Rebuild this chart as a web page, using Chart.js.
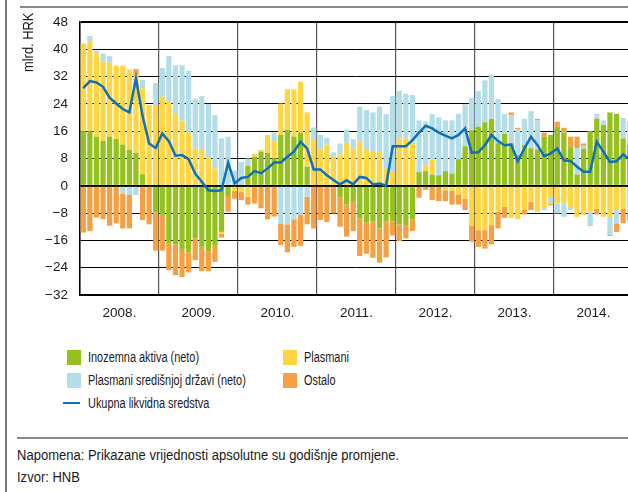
<!DOCTYPE html>
<html>
<head>
<meta charset="utf-8">
<script src="https://cdn.jsdelivr.net/npm/chart.js@4.4.1/dist/chart.umd.min.js"></script>
<style>
    html, body { margin: 0; padding: 0; background: #fff; overflow: hidden; }
    #page { position: relative; width: 628px; height: 492px; overflow: hidden; font-family: "Liberation Sans", Arial, sans-serif; color: #1a1a1a; }
    #chartBox { position: absolute; left: 0; top: 0; width: 640px; height: 330px; }
    .frame-left { position: absolute; left: 5px; top: 0; width: 1.5px; height: 492px; background: #777; }
    .frame-top { position: absolute; left: 20px; top: 6px; right: 0; height: 2px; background: #888; }
    .frame-sep { position: absolute; left: 17px; top: 437px; right: 0; height: 2px; background: #888; }
    .ytitle { position: absolute; left: 28px; top: 13px; font-size: 14px; line-height: 14px; white-space: nowrap;
              transform-origin: 0 0; transform: translate(-7px, 59px) rotate(-90deg) scaleX(0.92); }
    .legend-item { position: absolute; height: 16px; line-height: 16px; font-size: 14px; white-space: nowrap;
                   transform-origin: 0 50%; transform: scaleX(0.78); }
    .legend-box { position: absolute; width: 14px; height: 15px; }
    .legend-line { position: absolute; width: 17px; height: 2px; }
    .note { position: absolute; left: 17px; font-size: 14px; line-height: 16px; white-space: nowrap;
            transform-origin: 0 50%; transform: scaleX(0.93); }
</style>
</head>
<body>
<div id="page">
    <div class="frame-left"></div>
    <div class="frame-top"></div>
    <div id="chartBox"><canvas id="likvidnost"></canvas></div>
    <div class="ytitle">mlrd. HRK</div>
    <div id="legend"></div>
    <div class="frame-sep"></div>
    <div class="note" style="top:447px;">Napomena: Prikazane vrijednosti apsolutne su godišnje promjene.</div>
    <div class="note" style="top:469px;">Izvor: HNB</div>
</div>
<script>
// godine i mjeseci (kategorije)
const years = ['2008.', '2009.', '2010.', '2011.', '2012.', '2013.', '2014.'];
const months = [];
years.forEach(y => { for (let m = 1; m <= 12; m++) months.push(m + '/' + y); });

// godišnje promjene, mlrd. HRK
const inozemnaAktiva = [
    16, 16, 14.4, 13.2, 14.4, 13.7, 12.1, 10.5, 9.7, 3.4, 0, -7.8,
    -8.5, -16.8, -17.2, -18.5, -19.5, -15.4, -17.9, -19.2, -17.4, -13.5, -3, 0,
    0, 5.8, 8.5, 10, 9.7, 8, 14.9, 16.4, 14.4, 15.6, 5.6, 0,
    0, 0, 0, -3.5, -5.5, -4.7, -9.5, -10.8, -10.5, -12.5, -10.5, -10.5,
    -11.3, -11.7, -9.8, 4, 4.3, 3.3, 3.1, 4.3, 3.6, 7.8, 11.6, 16.3,
    17.3, 18.6, 19.6, 12.5, 15.2, 12.5, 9, 12, 11, 10.7, 14.4, 14.9,
    17.3, 15.6, 11.1, 3.3, 10.9, 16, 19.7, 17.8, 21.5, 21.1, 13.9, 12
];
const plasmani = [
    25.7, 26.2, 24.4, 23.2, 21.7, 21.5, 23.1, 23.6, 22.8, 25.2, 23.7, 23.7,
    26.1, 24.7, 21.3, 19.1, 15.6, 11, 10.5, 8.4, 5.1, -0.5, 0, -1.5,
    -1.8, -3.2, 0.8, 0.5, 5.2, 4.9, 9.2, 11.9, 13.9, 14.9, 15.9, 13.4,
    10.5, 12.1, 8.5, 9.2, 12.6, 10.9, 12.9, 10.5, 10.2, 10.2, 5, 4,
    13.9, 13.9, 12.6, 0, 1.6, 4.5, 0, -1.3, -1.5, -2.5, -3.7, -11.7,
    -13, -13, -11.5, -7.6, -6.2, -9.4, -9.8, -7.1, -4.7, -7.6, -6.5, -3.2,
    -5.2, -5.2, -6.2, -9.1, -8.6, -7.6, -6.8, -9.1, -9.4, -7.1, -6.8, -8
];
const plasmaniDrzavi = [
    0, 1.7, 0.8, 2.4, 1.9, 0, -2.4, -2.7, -2.7, 2.4, 0, 6.4,
    8.4, 13.4, 14, 16.2, 18.1, 14.5, 15.8, 15.6, 15.6, 13.9, 14.4, 4.5,
    7, 2.2, 0, 0, 0, 2.7, -11, -11.3, -9.8, -8.4, -3.2, 3.7,
    4.4, 2, 1.3, 3.2, 3.9, 2.8, 10.3, 11.7, 11.3, 13, 16, 22.3,
    13.9, 13.1, 14, 15.2, 12.9, 13.2, 17, 14.9, 15.6, 13.3, 12.3, 9.5,
    10.5, 12.3, 12.9, 12.9, 5.9, 8.2, 7.6, 7.6, 10.9, 8.5, -0.6, -2,
    -2.9, -3.9, -0.9, 7.7, 0.8, -3.9, 1.4, 1.4, -4.9, -3.9, 6, 6.8
];
const ostalo = [
    -13.7, -13.3, -9.3, -9.8, -11.7, -11, -10.1, -9.8, 1.7, -10, -11.3, -11.2,
    -10.5, -7.9, -9, -8.2, -5.9, -6.4, -7.1, -5.8, -4.9, -1.2, -4.6, -2.3,
    -2.4, -2.3, -5.2, -6.6, -9.8, -9, -6.4, -8.2, -8.1, -9.2, -8.1, -12.5,
    -10, -10.6, -8.1, -8.5, -9.4, -8.6, -11.1, -9.1, -10.6, -10, -10.5, -4.1,
    -4.9, -3.7, -3.4, -3.5, -1.2, -4.2, -4.5, -3.2, -4, -3, -3.4, -4.7,
    -4.9, -5.4, -5.7, -4.9, -3.2, 0.8, 0.4, -1.3, -2.4, 0.4, 1.2, -0.5,
    1.5, 1.4, 3.3, 3.4, 0.7, -0.2, -1.6, 0, -0.4, -2.5, -4.2, -2.4
];
const ukupnaLikvidna = [
    28.6, 30.7, 30.3, 29, 25.8, 24.1, 22.5, 21.5, 31.5, 20.5, 12.4, 11.1,
    15.3, 13.1, 8.8, 9, 7.8, 3.6, 1.2, -1.3, -1.5, -1.3, 6.8, 0.7,
    2.3, 2.6, 4.3, 3.7, 5.1, 6.8, 6.8, 8.5, 10, 12.9, 10.9, 4.8,
    4.8, 3.1, 1.7, 0.4, 1.6, 0.4, 2.6, 2.3, 0.4, 0.7, 0, 11.6,
    11.6, 11.6, 13.4, 15.6, 17.6, 16.8, 15.6, 14.7, 13.9, 14.9, 16.8, 9.7,
    9.8, 11.9, 14.9, 13.1, 11.9, 12.1, 7.2, 10.9, 14.4, 11.9, 8.7, 9.5,
    10.9, 7.5, 7.3, 5.6, 4.1, 4.1, 12.9, 10, 7, 7.2, 9.2, 7.8
];

const COLORS = {
    green: '#95c11f',
    yellow: '#ffd641',
    blue: '#b3dee9',
    orange: '#f5a042',
    line: '#0f70b5'
};

function barSet(label, data, color) {
    return {
        type: 'bar',
        label: label,
        data: data,
        backgroundColor: color,
        borderWidth: 0,
        stack: 'komponente',
        barPercentage: 0.8,
        categoryPercentage: 1,
        order: 2
    };
}

const ctx = document.getElementById('likvidnost').getContext('2d');
new Chart(ctx, {
    data: {
        labels: months,
        datasets: [
            barSet('Inozemna aktiva (neto)', inozemnaAktiva, COLORS.green),
            barSet('Plasmani', plasmani, COLORS.yellow),
            barSet('Plasmani središnjoj državi (neto)', plasmaniDrzavi, COLORS.blue),
            barSet('Ostalo', ostalo, COLORS.orange),
            {
                type: 'line',
                label: 'Ukupna likvidna sredstva',
                data: ukupnaLikvidna,
                borderColor: COLORS.line,
                borderWidth: 2.5,
                pointRadius: 0,
                tension: 0,
                stack: 'linija',
                order: 1
            }
        ]
    },
    options: {
        responsive: true,
        maintainAspectRatio: false,
        animation: false,
        layout: { padding: { top: 22, right: 7, left: 0, bottom: 0 } },
        plugins: {
            legend: { display: false },
            tooltip: { enabled: false }
        },
        scales: {
            x: {
                stacked: true,
                offset: true,
                afterFit: s => { s.height = 35; },
                grid: {
                    offset: true,
                    drawTicks: false,
                    color: c => (c.index % 12 === 0 ? '#555' : 'rgba(0,0,0,0)'),
                    lineWidth: 1.2
                },
                border: { display: true, color: '#000', width: 2 },
                ticks: {
                    autoSkip: false,
                    maxRotation: 0,
                    padding: 10,
                    labelOffset: -3.3,
                    color: '#1a1a1a',
                    font: { family: '"Liberation Sans", Arial, sans-serif', size: 13.5 },
                    callback: (v, i) => (i % 12 === 6 ? years[Math.floor(i / 12)] : '')
                }
            },
            y: {
                stacked: true,
                min: -32,
                max: 48,
                afterFit: s => { s.width = 80; },
                grid: {
                    drawTicks: false,
                    color: '#000',
                    lineWidth: c => ([0, 48, -32].includes(c.tick.value) ? 2 : 1)
                },
                border: { display: true, color: '#000', width: 1.5 },
                ticks: {
                    stepSize: 8,
                    padding: 12,
                    color: '#1a1a1a',
                    font: { family: '"Liberation Sans", Arial, sans-serif', size: 13.5 },
                    callback: v => (v < 0 ? '\u2212' + Math.abs(v) : String(v))
                }
            }
        }
    }
});

// legenda (dva stupca kao u izvorniku)
const legendItems = [
    { label: 'Inozemna aktiva (neto)', color: COLORS.green, x: 67, y: 357, kind: 'box' },
    { label: 'Plasmani središnjoj državi (neto)', color: COLORS.blue, x: 67, y: 380, kind: 'box' },
    { label: 'Ukupna likvidna sredstva', color: COLORS.line, x: 63, y: 403, kind: 'line' },
    { label: 'Plasmani', color: COLORS.yellow, x: 283, y: 357, kind: 'box' },
    { label: 'Ostalo', color: COLORS.orange, x: 283, y: 380, kind: 'box' }
];
const legendEl = document.getElementById('legend');
legendItems.forEach(it => {
    const mark = document.createElement('div');
    if (it.kind === 'box') {
        mark.className = 'legend-box';
        mark.style.left = it.x + 'px';
        mark.style.top = (it.y - 7.5) + 'px';
    } else {
        mark.className = 'legend-line';
        mark.style.left = it.x + 'px';
        mark.style.top = (it.y - 1) + 'px';
    }
    mark.style.background = it.color;
    legendEl.appendChild(mark);

    const txt = document.createElement('div');
    txt.className = 'legend-item';
    txt.style.left = (it.kind === 'box' ? it.x + 21 : it.x + 25) + 'px';
    txt.style.top = (it.y - 8) + 'px';
    txt.textContent = it.label;
    legendEl.appendChild(txt);
});
</script>
</body>
</html>
